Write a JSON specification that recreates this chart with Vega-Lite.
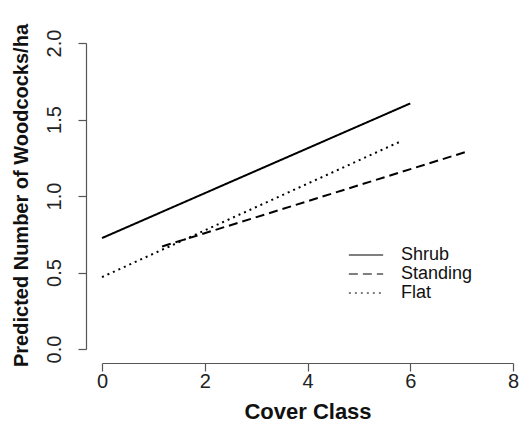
{
  "$schema": "https://vega.github.io/schema/vega-lite/v6.json",
  "width": 411,
  "height": 306,
  "autosize": {"type": "none"},
  "padding": {"left": 102, "top": 43, "right": 14, "bottom": 85},
  "background": "white",
  "config": {
    "view": {"stroke": null},
    "font": "Liberation Sans",
    "axis": {"grid": false, "domainColor": "#555", "tickColor": "#555", "domainWidth": 1.2, "tickWidth": 1.2, "labelColor": "#222", "titleColor": "#111", "labelFont": "Liberation Sans", "titleFont": "Liberation Sans"}
  },
  "data": {
    "values": [
      {"cover": "Shrub", "x": 0, "y": 0.725},
      {"cover": "Shrub", "x": 6, "y": 1.605},
      {"cover": "Standing", "x": 1.17, "y": 0.67},
      {"cover": "Standing", "x": 7.1, "y": 1.29},
      {"cover": "Flat", "x": 0, "y": 0.47},
      {"cover": "Flat", "x": 5.8, "y": 1.355}
    ]
  },
  "mark": {"type": "line", "color": "black", "strokeWidth": 2},
  "encoding": {
    "x": {
      "field": "x", "type": "quantitative",
      "scale": {"domain": [0, 8], "nice": false, "zero": false},
      "axis": {"title": "Cover Class", "values": [0, 2, 4, 6, 8], "offset": 14, "tickSize": 8, "labelFontSize": 20, "labelPadding": 0, "titleFontSize": 22, "titleFontWeight": "bold", "titlePadding": 10, "labelFlush": false}
    },
    "y": {
      "field": "y", "type": "quantitative",
      "scale": {"domain": [0, 2], "nice": false, "zero": false},
      "axis": {"title": "Predicted Number of Woodcocks/ha", "values": [0, 0.5, 1, 1.5, 2], "format": ".1f", "offset": 16, "tickSize": 8, "labelFontSize": 20, "labelAngle": -90, "labelAlign": "center", "labelBaseline": "bottom", "labelPadding": 14, "titleFontSize": 20, "titleFontWeight": "bold", "titlePadding": 13, "titleY": 152, "labelFlush": false}
    },
    "detail": {"field": "cover"},
    "strokeDash": {
      "field": "cover", "type": "nominal",
      "scale": {"domain": ["Shrub", "Standing", "Flat"], "range": [[1, 0], [9, 5], [2, 4]]},
      "legend": {"title": null, "orient": "none", "legendX": 255, "legendY": 203, "symbolType": "M-2.8,0H2.8", "symbolSize": 150, "symbolStrokeWidth": 1.2, "symbolStrokeColor": "black", "symbolFillColor": "transparent", "labelFontSize": 18, "labelColor": "#111", "rowPadding": 1, "labelOffset": 26}
    }
  }
}
